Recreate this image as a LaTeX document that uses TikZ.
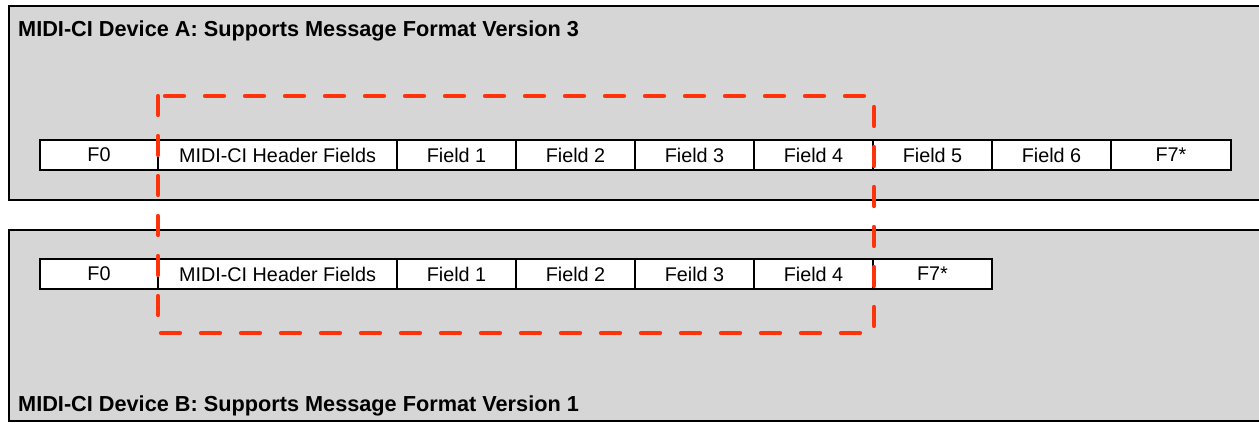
\documentclass[tikz,border=0pt]{standalone}
\usepackage{fontspec}
\setmainfont{Liberation Sans}
\definecolor{panelgray}{RGB}{214,214,214}
\definecolor{hilite}{RGB}{255,51,10}
\begin{document}
\begin{tikzpicture}[x=1pt,y=-1pt,
  panel/.style={draw=black, line width=2.4pt, fill=panelgray},
  cell/.style={draw=black, line width=2.6pt, fill=white, minimum height=30pt,
    inner sep=0pt, outer sep=0pt, anchor=west, font=\fontsize{19.8}{19.8}\selectfont},
  hcell/.style={cell, minimum width=239pt},
  fcell/.style={cell, minimum width=119pt},
  title/.style={anchor=base west, inner sep=0pt, font=\bfseries\fontsize{21.7}{21.7}\selectfont},
  frame/.style={draw=hilite, line width=4.2pt, dash pattern=on 19pt off 21pt, line cap=round}]
\useasboundingbox (0,0) rectangle (1259,423);
\fill[white] (0,0) rectangle (1259,423);

% device panels (running off the right edge)
\draw[panel] (9,6) rectangle (1275,200);
\draw[panel] (9,230) rectangle (1275,421);

\node[title] (ta) at (18,36) {MIDI-CI Device A: Supports Message Format Version 3};
\node[title] (tb) at (18,411) {MIDI-CI Device B: Supports Message Format Version 1};

% message of device A
\node[cell, minimum width=118pt] (a0) at (40,155) {F0};
\node[hcell] (a1) at (a0.east) {MIDI-CI Header Fields};
\node[fcell] (a2) at (a1.east) {Field 1};
\node[fcell] (a3) at (a2.east) {Field 2};
\node[fcell] (a4) at (a3.east) {Field 3};
\node[fcell] (a5) at (a4.east) {Field 4};
\node[fcell] (a6) at (a5.east) {Field 5};
\node[fcell] (a7) at (a6.east) {Field 6};
\node[fcell, minimum width=120pt] (a8) at (a7.east) {F7*};

% message of device B
\node[cell, minimum width=118pt] (b0) at (40,274) {F0};
\node[hcell] (b1) at (b0.east) {MIDI-CI Header Fields};
\node[fcell] (b2) at (b1.east) {Field 1};
\node[fcell] (b3) at (b2.east) {Field 2};
\node[fcell] (b4) at (b3.east) {Feild 3};
\node[fcell] (b5) at (b4.east) {Field 4};
\node[fcell] (b6) at (b5.east) {F7*};

% common part of both formats
\draw[frame] (158,96) rectangle (874,333);
\end{tikzpicture}
\end{document}
